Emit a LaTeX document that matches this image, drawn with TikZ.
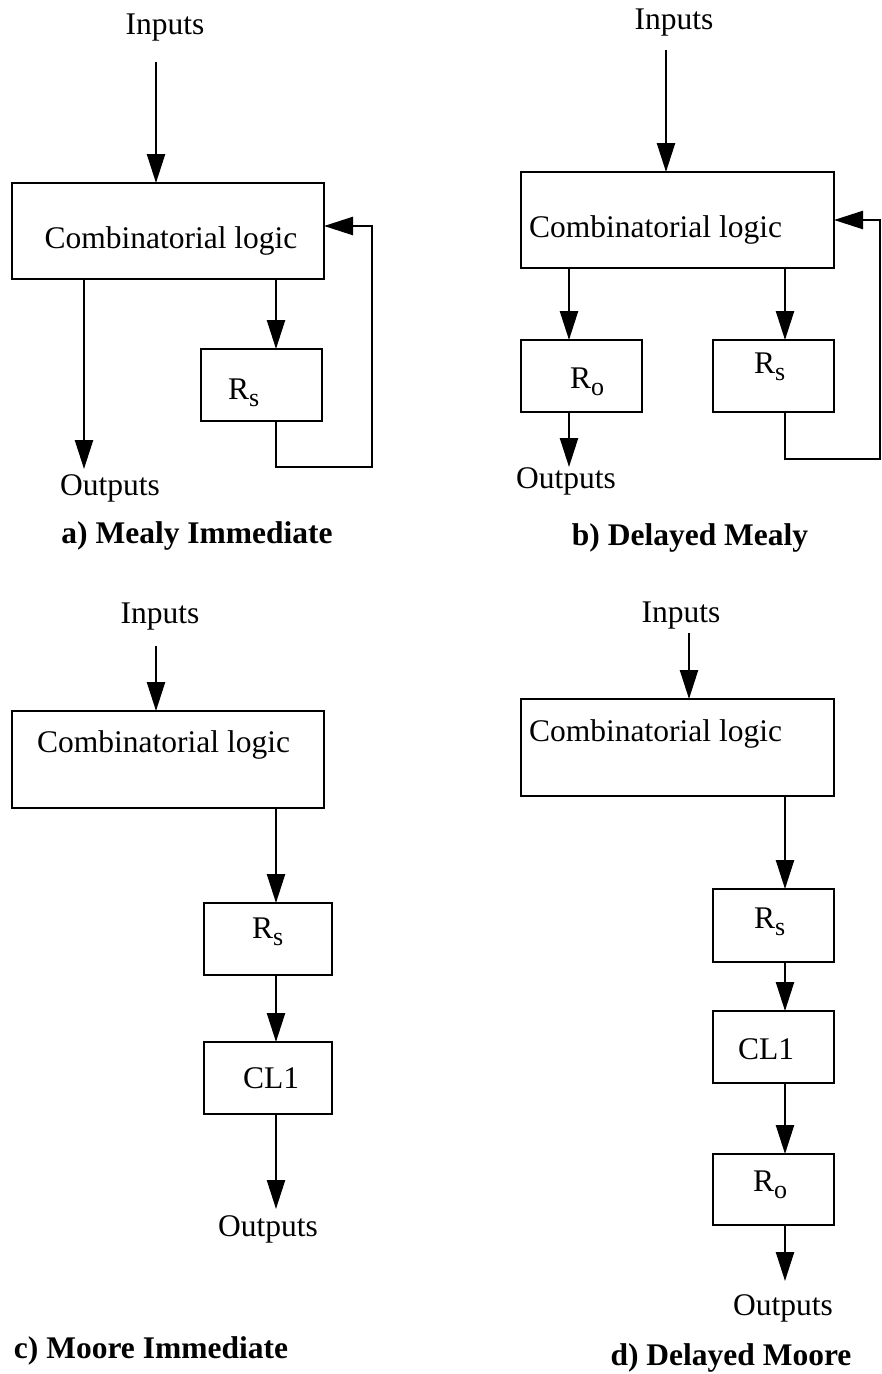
\documentclass[tikz,border=0pt]{standalone}
\usepackage{fontspec}
\setmainfont{Liberation Serif}
\usetikzlibrary{arrows.meta}
% lowered, smaller index letter for register names
\newcommand{\lowsub}[1]{\raisebox{-7pt}{\fontsize{26}{26}\selectfont #1}}
\begin{document}
\begin{tikzpicture}[x=1pt,y=-1pt,
  blk/.style={draw, line width=2.8pt, inner sep=0pt, outer sep=0pt},
  wire/.style={line width=2.4pt},
  arr/.style={wire, -{Triangle[length=29pt,width=18pt]}},
  txt/.style={inner sep=0pt, font=\fontsize{31.5}{36}\selectfont},
  ttl/.style={inner sep=0pt, font=\fontsize{31.5}{36}\selectfont\bfseries}]
\useasboundingbox (0,0) rectangle (882,1374);

% ---------------- a) Mealy Immediate ----------------
\node[blk, minimum width=312pt, minimum height=96pt] (a-cl) at (168,231) {};
\node[blk, minimum width=121pt, minimum height=72pt] (a-rs) at (261.5,385) {};
\node[txt, anchor=base] (a-in-t) at (165,34) {Inputs};
\node[txt, anchor=base] (a-cl-t) at (171,248) {Combinatorial logic};
\node[txt, anchor=base west] (a-rs-t) at (228,399) {R\lowsub{s}};
\node[txt, anchor=base] (a-out-t) at (110,495) {Outputs};
\node[ttl, anchor=base] (a-title) at (197,543) {a) Mealy Immediate};
\coordinate (a-in) at (156,62);
\coordinate (a-tap) at (276,0);
\coordinate (a-fb1) at (372,467);
\coordinate (a-fb2) at (372,226);
\coordinate (a-out) at (84,469);
\draw[arr] (a-in) -- (a-in |- a-cl.north);
\draw[arr] (a-cl.south -| a-tap) -- (a-rs.north -| a-tap);
\draw[arr] (a-rs.south -| a-tap) |- (a-fb1) -- (a-fb2) -- (a-cl.east |- a-fb2);
\draw[arr] (a-cl.south -| a-out) -- (a-out);

% ---------------- b) Delayed Mealy ----------------
\node[blk, minimum width=313pt, minimum height=96pt] (b-cl) at (677.5,220) {};
\node[blk, minimum width=121pt, minimum height=72pt] (b-ro) at (581.5,376) {};
\node[blk, minimum width=121pt, minimum height=72pt] (b-rs) at (773.5,376) {};
\node[txt, anchor=base] (b-in-t) at (674,29) {Inputs};
\node[txt, anchor=base west] (b-cl-t) at (529,237) {Combinatorial logic};
\node[txt, anchor=base west] (b-ro-t) at (570,388) {R\lowsub{o}};
\node[txt, anchor=base west] (b-rs-t) at (754,373) {R\lowsub{s}};
\node[txt, anchor=base] (b-out-t) at (566,488) {Outputs};
\node[ttl, anchor=base] (b-title) at (690,545) {b) Delayed Mealy};
\coordinate (b-in) at (666,50);
\coordinate (b-l) at (569,0);
\coordinate (b-r) at (785,0);
\coordinate (b-out) at (569,467);
\coordinate (b-fb1) at (880,459);
\coordinate (b-fb2) at (880,220);
\draw[arr] (b-in) -- (b-in |- b-cl.north);
\draw[arr] (b-cl.south -| b-l) -- (b-ro.north -| b-l);
\draw[arr] (b-cl.south -| b-r) -- (b-rs.north -| b-r);
\draw[arr] (b-ro.south -| b-out) -- (b-out);
\draw[arr] (b-rs.south -| b-r) |- (b-fb1) -- (b-fb2) -- (b-cl.east |- b-fb2);

% ---------------- c) Moore Immediate ----------------
\node[blk, minimum width=312pt, minimum height=97pt] (c-cl) at (168,759.5) {};
\node[blk, minimum width=128pt, minimum height=72pt] (c-rs) at (268,939) {};
\node[blk, minimum width=128pt, minimum height=72pt] (c-cl1) at (268,1078) {};
\node[txt, anchor=base] (c-in-t) at (160,623) {Inputs};
\node[txt, anchor=base west] (c-cl-t) at (37,752) {Combinatorial logic};
\node[txt, anchor=base west] (c-rs-t) at (252,938) {R\lowsub{s}};
\node[txt, anchor=base west] (c-cl1-t) at (243,1088) {CL1};
\node[txt, anchor=base] (c-out-t) at (268,1236) {Outputs};
\node[ttl, anchor=base] (c-title) at (151,1358) {c) Moore Immediate};
\coordinate (c-in) at (156,646);
\coordinate (c-tap) at (276,0);
\coordinate (c-out) at (276,1209);
\draw[arr] (c-in) -- (c-in |- c-cl.north);
\draw[arr] (c-cl.south -| c-tap) -- (c-rs.north -| c-tap);
\draw[arr] (c-rs.south -| c-tap) -- (c-cl1.north -| c-tap);
\draw[arr] (c-cl1.south -| c-out) -- (c-out);

% ---------------- d) Delayed Moore ----------------
\node[blk, minimum width=313pt, minimum height=97pt] (d-cl) at (677.5,747.5) {};
\node[blk, minimum width=121pt, minimum height=73pt] (d-rs) at (773.5,925.5) {};
\node[blk, minimum width=121pt, minimum height=72pt] (d-cl1) at (773.5,1047) {};
\node[blk, minimum width=121pt, minimum height=71pt] (d-ro) at (773.5,1189.5) {};
\node[txt, anchor=base] (d-in-t) at (681,622) {Inputs};
\node[txt, anchor=base west] (d-cl-t) at (529,741) {Combinatorial logic};
\node[txt, anchor=base west] (d-rs-t) at (754,928) {R\lowsub{s}};
\node[txt, anchor=base west] (d-cl1-t) at (738,1059) {CL1};
\node[txt, anchor=base west] (d-ro-t) at (753,1191) {R\lowsub{o}};
\node[txt, anchor=base] (d-out-t) at (783,1315) {Outputs};
\node[ttl, anchor=base] (d-title) at (731,1365) {d) Delayed Moore};
\coordinate (d-in) at (689,633);
\coordinate (d-tap) at (785,0);
\coordinate (d-out) at (785,1281);
\draw[arr] (d-in) -- (d-in |- d-cl.north);
\draw[arr] (d-cl.south -| d-tap) -- (d-rs.north -| d-tap);
\draw[arr] (d-rs.south -| d-tap) -- (d-cl1.north -| d-tap);
\draw[arr] (d-cl1.south -| d-tap) -- (d-ro.north -| d-tap);
\draw[arr] (d-ro.south -| d-out) -- (d-out);
\end{tikzpicture}
\end{document}
